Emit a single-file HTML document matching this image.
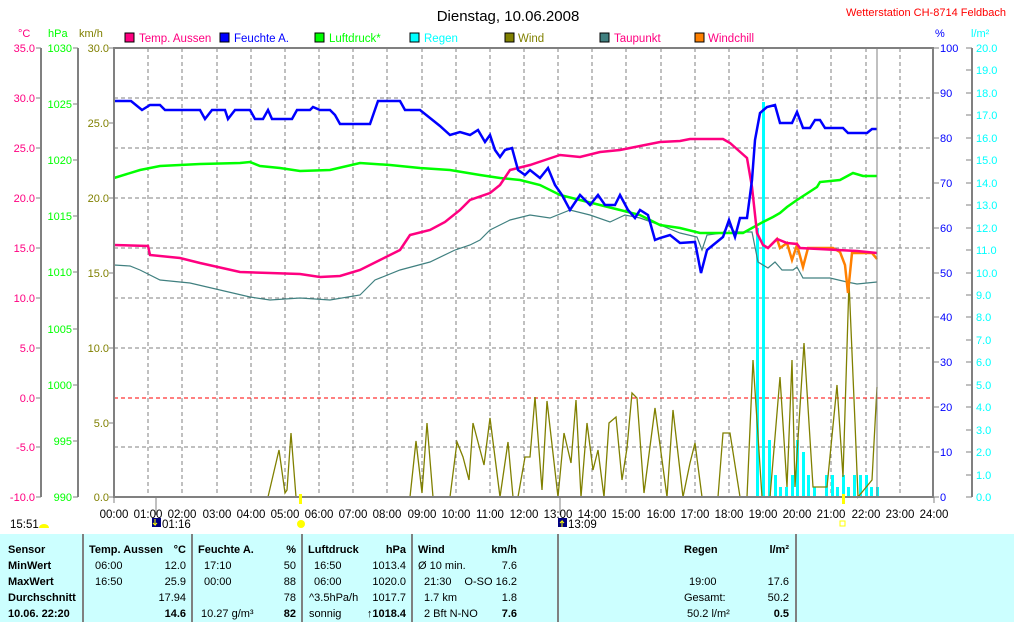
<!DOCTYPE html>
<html><head><meta charset="utf-8"><style>
body{margin:0;background:#fff;width:1014px;height:622px;overflow:hidden;font-family:"Liberation Sans",sans-serif}
svg text{font-family:"Liberation Sans",sans-serif}
</style></head><body>
<svg width="1014" height="622" viewBox="0 0 1014 622" xmlns="http://www.w3.org/2000/svg">
<text x="508" y="21" font-size="15" text-anchor="middle" fill="#000">Dienstag, 10.06.2008</text>
<text x="1006" y="16" font-size="11" text-anchor="end" fill="#ff0000">Wetterstation CH-8714 Feldbach</text>
<!-- units -->
<g font-size="11">
<text x="18" y="37" fill="#ff0080">°C</text>
<text x="48" y="37" fill="#00ff00">hPa</text>
<text x="79" y="37" fill="#808000">km/h</text>
<text x="935" y="37" fill="#0000ff">%</text>
<text x="971" y="37" fill="#00ffff">l/m²</text>
</g>
<!-- legend -->
<g font-size="11.5">
<rect x="125" y="33" width="9" height="9" fill="#ff0080" stroke="#000"/><text x="139" y="42" fill="#ff0080">Temp. Aussen</text>
<rect x="220" y="33" width="9" height="9" fill="#0000ff" stroke="#000"/><text x="234" y="42" fill="#0000ff">Feuchte A.</text>
<rect x="315" y="33" width="9" height="9" fill="#00ff00" stroke="#000"/><text x="329" y="42" fill="#00ff00">Luftdruck*</text>
<rect x="410" y="33" width="9" height="9" fill="#00ffff" stroke="#000"/><text x="424" y="42" fill="#00ffff">Regen</text>
<rect x="505" y="33" width="9" height="9" fill="#808000" stroke="#000"/><text x="518" y="42" fill="#808000">Wind</text>
<rect x="600" y="33" width="9" height="9" fill="#408080" stroke="#000"/><text x="614" y="42" fill="#ff0080">Taupunkt</text>
<rect x="695" y="33" width="9" height="9" fill="#ff8000" stroke="#000"/><text x="708" y="42" fill="#ff0080">Windchill</text>
</g>
<!-- left axes -->
<g stroke="#808080" stroke-width="2" fill="none">
<line x1="41" y1="48" x2="41" y2="497"/>
<line x1="78" y1="48" x2="78" y2="497"/>
<line x1="972" y1="48" x2="972" y2="497"/>
</g>
<g stroke="#808080" stroke-width="1">
<path d="M36 48H41M36 98H41M36 148H41M36 198H41M36 248H41M36 298H41M36 348H41M36 398H41M36 447H41M36 497H41"/>
<path d="M73 48H78M73 104H78M73 160H78M73 216H78M73 272H78M73 329H78M73 385H78M73 441H78M73 497H78"/>
<path d="M109 48H114M109 123H114M109 198H114M109 273H114M109 348H114M109 423H114M109 497H114"/>
<path d="M933 48H939M933 93H939M933 138H939M933 183H939M933 228H939M933 273H939M933 317H939M933 362H939M933 407H939M933 452H939M933 497H939"/>
<path d="M966 48H972M966 70H972M966 93H972M966 115H972M966 138H972M966 160H972M966 183H972M966 205H972M966 228H972M966 250H972M966 273H972M966 295H972M966 317H972M966 340H972M966 362H972M966 385H972M966 407H972M966 430H972M966 452H972M966 475H972M966 497H972"/>
</g>
<g font-size="11" text-anchor="end" fill="#ff0080">
<text x="35" y="52">35.0</text><text x="35" y="102">30.0</text><text x="35" y="152">25.0</text><text x="35" y="202">20.0</text><text x="35" y="252">15.0</text><text x="35" y="302">10.0</text><text x="35" y="352">5.0</text><text x="35" y="402">0.0</text><text x="35" y="451">-5.0</text><text x="35" y="501">-10.0</text>
</g>
<g font-size="11" text-anchor="end" fill="#00ff00">
<text x="72" y="52">1030</text><text x="72" y="108">1025</text><text x="72" y="164">1020</text><text x="72" y="220">1015</text><text x="72" y="276">1010</text><text x="72" y="333">1005</text><text x="72" y="389">1000</text><text x="72" y="445">995</text><text x="72" y="501">990</text>
</g>
<g font-size="11" text-anchor="end" fill="#808000">
<text x="109" y="52">30.0</text><text x="109" y="127">25.0</text><text x="109" y="202">20.0</text><text x="109" y="277">15.0</text><text x="109" y="352">10.0</text><text x="109" y="427">5.0</text><text x="109" y="501">0.0</text>
</g>
<g font-size="11" fill="#0000ff">
<text x="940" y="52">100</text><text x="940" y="97">90</text><text x="940" y="142">80</text><text x="940" y="187">70</text><text x="940" y="232">60</text><text x="940" y="277">50</text><text x="940" y="321">40</text><text x="940" y="366">30</text><text x="940" y="411">20</text><text x="940" y="456">10</text><text x="940" y="501">0</text>
</g>
<g font-size="11" fill="#00ffff">
<text x="976" y="52">20.0</text><text x="976" y="74">19.0</text><text x="976" y="97">18.0</text><text x="976" y="119">17.0</text><text x="976" y="142">16.0</text><text x="976" y="164">15.0</text><text x="976" y="187">14.0</text><text x="976" y="209">13.0</text><text x="976" y="232">12.0</text><text x="976" y="254">11.0</text><text x="976" y="277">10.0</text><text x="976" y="299">9.0</text><text x="976" y="321">8.0</text><text x="976" y="344">7.0</text><text x="976" y="366">6.0</text><text x="976" y="389">5.0</text><text x="976" y="411">4.0</text><text x="976" y="434">3.0</text><text x="976" y="456">2.0</text><text x="976" y="479">1.0</text><text x="976" y="501">0.0</text>
</g>
<!-- grid -->
<g stroke="#808080" stroke-width="1" stroke-dasharray="4,3">
<path d="M114 98H933M114 148H933M114 198H933M114 248H933M114 298H933M114 348H933M114 447H933"/>
<path d="M148 48V497M182 48V497M217 48V497M251 48V497M285 48V497M319 48V497M353 48V497M387 48V497M422 48V497M456 48V497M490 48V497M524 48V497M558 48V497M592 48V497M626 48V497M661 48V497M695 48V497M729 48V497M763 48V497M797 48V497M831 48V497M866 48V497M900 48V497"/>
</g>
<line x1="114" y1="398" x2="933" y2="398" stroke="#ff0000" stroke-dasharray="4,3"/>
<!-- rain -->
<g fill="#00ffff">
<rect x="756" y="228" width="3" height="269"/><rect x="762" y="102" width="3" height="395"/>
<rect x="768" y="440" width="3" height="57"/><rect x="774" y="475" width="3" height="22"/><rect x="779" y="487" width="3" height="10"/><rect x="785" y="487" width="3" height="10"/><rect x="791" y="475" width="3" height="22"/><rect x="796" y="440" width="3" height="57"/><rect x="802" y="452" width="3" height="45"/><rect x="807" y="475" width="3" height="22"/><rect x="813" y="487" width="3" height="10"/><rect x="825" y="475" width="3" height="22"/><rect x="831" y="475" width="3" height="22"/><rect x="836" y="487" width="3" height="10"/><rect x="842" y="475" width="3" height="22"/><rect x="847" y="487" width="3" height="10"/><rect x="853" y="475" width="3" height="22"/><rect x="859" y="475" width="3" height="22"/><rect x="865" y="475" width="3" height="22"/><rect x="870" y="487" width="3" height="10"/><rect x="876" y="487" width="3" height="10"/>
</g>
<!-- wind -->
<polyline fill="none" stroke="#808000" stroke-width="1.3" points="114,497 268,497 279,450 285,493 287,490 291,433 296,497 410,497 416,441 422,493 427,423 433,497 450,497 457,442 463,457 469,480 473,423 484,465 490,418 500,497 508,442 513,497 518,497 525,457 530,457 535,397 542,490 547,401 558,497 564,433 571,463 576,400 581,497 587,423 593,470 598,450 604,497 609,423 616,417 622,480 627,448 632,393 637,398 644,493 655,408 667,497 673,410 683,497 690,463 695,443 702,497 718,497 723,433 730,433 740,497 747,497 753,360 762,497 770,497 780,377 787,487 792,360 795,487 804,343 813,487 827,487 837,385 843,477 849,282 855,423 858,497 872,480 877,387"/>
<!-- dewpoint -->
<polyline fill="none" stroke="#408080" stroke-width="1.2" points="114,265 130,266 140,270 160,280 190,283 220,290 250,297 270,300 300,298 330,300 360,295 375,280 400,270 430,262 455,250 470,245 480,240 490,230 510,220 530,215 550,218 570,210 590,215 610,222 625,215 640,218 660,225 680,233 697,237 702,250 707,235 723,233 728,225 735,232 752,232 758,262 768,268 775,262 782,270 793,270 797,267 803,278 830,278 847,282 857,284 877,282"/>
<!-- pressure -->
<polyline fill="none" stroke="#00ff00" stroke-width="2.5" points="114,178 140,170 160,166 200,164 240,163 250,162 260,166 280,168 300,171 330,170 360,163 390,165 420,168 450,170 480,175 500,178 520,180 540,185 560,195 580,200 600,205 620,210 640,215 660,225 680,228 700,233 743,233 752,228 763,222 773,217 780,213 787,207 797,200 817,187 820,182 840,180 853,173 863,176 877,176"/>
<!-- windchill -->
<polyline fill="none" stroke="#ff8000" stroke-width="2.5" points="770,246 777,239 780,248 787,243 792,260 797,245 803,267 808,248 833,248 840,252 845,265 848,293 852,253 872,253 877,259"/>
<!-- temp -->
<polyline fill="none" stroke="#ff0080" stroke-width="2.5" points="114,245 148,246 150,255 180,258 200,263 240,272 270,273 300,274 320,277 340,276 360,270 380,260 400,250 410,235 430,230 445,222 460,210 470,200 490,193 500,185 510,170 530,165 545,160 560,155 580,157 600,152 620,150 640,146 660,142 680,141 690,139 723,139 730,143 747,158 752,187 757,233 763,245 768,248 777,239 787,243 797,244 800,248 857,251 877,253"/>
<!-- humidity -->
<polyline fill="none" stroke="#0000ff" stroke-width="2.5" points="114,101 131,101 142,110 150,105 160,105 165,110 200,110 205,119 212,110 225,110 228,119 235,110 250,110 255,119 263,119 268,110 272,119 292,119 297,110 310,110 313,107 320,110 330,110 335,115 340,124 370,124 378,101 400,101 405,110 420,110 430,118 440,126 450,135 460,132 470,135 478,130 485,142 490,135 495,150 500,157 505,150 512,148 518,170 525,175 530,170 540,178 548,168 555,185 562,195 570,210 580,195 590,205 598,195 605,205 615,205 620,195 628,210 635,218 640,210 648,215 655,240 660,238 670,235 680,243 695,242 701,273 707,250 723,237 729,220 735,237 740,218 747,218 752,180 755,140 760,113 767,107 775,105 780,123 792,123 797,112 803,128 810,128 815,120 820,120 825,128 843,128 848,133 867,133 872,129 877,129"/>
<line x1="877" y1="48" x2="877" y2="497" stroke="#808080" stroke-width="1"/>
<!-- frame -->
<rect x="114" y="48" width="819" height="449" fill="none" stroke="#808080" stroke-width="2"/>
<!-- bottom ticks & markers -->
<g stroke="#808080"><line x1="114" y1="497" x2="114" y2="503"/><line x1="934" y1="497" x2="934" y2="503"/><line x1="156" y1="497" x2="156" y2="515"/><line x1="560" y1="497" x2="560" y2="515"/></g>
<rect x="299" y="494" width="3" height="10" fill="#ffff00"/>
<rect x="842" y="494" width="3" height="10" fill="#ffff00"/>
<g font-size="11.5" text-anchor="middle" fill="#000">
<text x="114" y="518">00:00</text><text x="148" y="518">01:00</text><text x="182" y="518">02:00</text><text x="217" y="518">03:00</text><text x="251" y="518">04:00</text><text x="285" y="518">05:00</text><text x="319" y="518">06:00</text><text x="353" y="518">07:00</text><text x="387" y="518">08:00</text><text x="422" y="518">09:00</text><text x="456" y="518">10:00</text><text x="490" y="518">11:00</text><text x="524" y="518">12:00</text><text x="558" y="518">13:00</text><text x="592" y="518">14:00</text><text x="626" y="518">15:00</text><text x="661" y="518">16:00</text><text x="695" y="518">17:00</text><text x="729" y="518">18:00</text><text x="763" y="518">19:00</text><text x="797" y="518">20:00</text><text x="831" y="518">21:00</text><text x="866" y="518">22:00</text><text x="900" y="518">23:00</text><text x="934" y="518">24:00</text>
</g>
<text x="10" y="528" font-size="11.5">15:51</text>
<path d="M39 528a5 4 0 0 1 10 0z" fill="#ffff00"/>
<rect x="152" y="518" width="9" height="9" fill="#000080"/><path d="M155 519v6l-2-2M155 525l2-2" stroke="#ffff00" fill="none"/>
<text x="162" y="528" font-size="11.5">01:16</text>
<circle cx="301" cy="524" r="4" fill="#ffff00"/>
<rect x="558" y="518" width="9" height="9" fill="#000080"/><path d="M562 527v-6l-2 2M562 521l2 2" stroke="#ffff00" fill="none"/>
<text x="568" y="528" font-size="11.5">13:09</text>
<rect x="840" y="521" width="5" height="5" fill="none" stroke="#ffff00"/>
<!-- table -->
<rect x="0" y="534" width="1014" height="88" fill="#ccffff"/>
<g stroke="#808080" stroke-width="2"><line x1="83" y1="534" x2="83" y2="622"/><line x1="192" y1="534" x2="192" y2="622"/><line x1="302" y1="534" x2="302" y2="622"/><line x1="412" y1="534" x2="412" y2="622"/><line x1="558" y1="534" x2="558" y2="622"/><line x1="796" y1="534" x2="796" y2="622"/></g>
<g font-size="11" fill="#000">
<g font-weight="bold">
<text x="8" y="553">Sensor</text><text x="8" y="569">MinWert</text><text x="8" y="585">MaxWert</text><text x="8" y="601">Durchschnitt</text><text x="8" y="617">10.06. 22:20</text>
<text x="89" y="553">Temp. Aussen</text><text x="186" y="553" text-anchor="end">°C</text>
<text x="198" y="553">Feuchte A.</text><text x="296" y="553" text-anchor="end">%</text>
<text x="308" y="553">Luftdruck</text><text x="406" y="553" text-anchor="end">hPa</text>
<text x="418" y="553">Wind</text><text x="517" y="553" text-anchor="end">km/h</text>
<text x="684" y="553">Regen</text><text x="789" y="553" text-anchor="end">l/m²</text>
<text x="186" y="617" text-anchor="end">14.6</text><text x="296" y="617" text-anchor="end">82</text><text x="406" y="617" text-anchor="end">↑1018.4</text><text x="517" y="617" text-anchor="end">7.6</text><text x="789" y="617" text-anchor="end">0.5</text>
</g>
<text x="95" y="569">06:00</text><text x="186" y="569" text-anchor="end">12.0</text>
<text x="95" y="585">16:50</text><text x="186" y="585" text-anchor="end">25.9</text>
<text x="186" y="601" text-anchor="end">17.94</text>
<text x="204" y="569">17:10</text><text x="296" y="569" text-anchor="end">50</text>
<text x="204" y="585">00:00</text><text x="296" y="585" text-anchor="end">88</text>
<text x="296" y="601" text-anchor="end">78</text>
<text x="201" y="617">10.27 g/m³</text>
<text x="314" y="569">16:50</text><text x="406" y="569" text-anchor="end">1013.4</text>
<text x="314" y="585">06:00</text><text x="406" y="585" text-anchor="end">1020.0</text>
<text x="309" y="601">^3.5hPa/h</text><text x="406" y="601" text-anchor="end">1017.7</text>
<text x="309" y="617">sonnig</text>
<text x="418" y="569">Ø 10 min.</text><text x="517" y="569" text-anchor="end">7.6</text>
<text x="424" y="585">21:30</text><text x="517" y="585" text-anchor="end">O-SO 16.2</text>
<text x="424" y="601">1.7 km</text><text x="517" y="601" text-anchor="end">1.8</text>
<text x="424" y="617">2 Bft N-NO</text>
<text x="689" y="585">19:00</text><text x="789" y="585" text-anchor="end">17.6</text>
<text x="684" y="601">Gesamt:</text><text x="789" y="601" text-anchor="end">50.2</text>
<text x="687" y="617">50.2 l/m²</text>
</g>
</svg>
</body></html>
